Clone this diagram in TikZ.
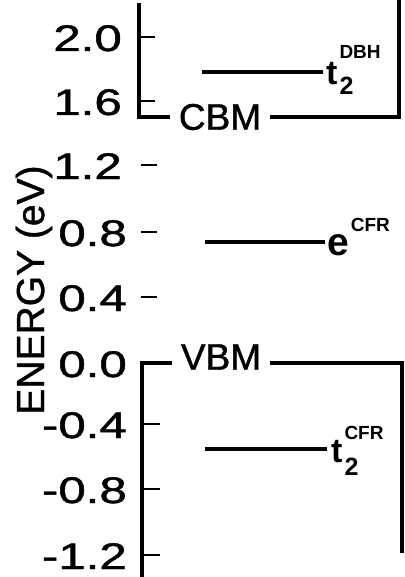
\documentclass[tikz,border=0pt]{standalone}
\usepackage{graphicx}
\usepackage{fontspec}
\setmainfont{Liberation Sans}
\newfontfamily\medfont[FakeBold=1.1]{Liberation Sans}
\newcommand\dg[1]{\scalebox{1.33}[1]{#1}}
\begin{document}
\begin{tikzpicture}[x=1pt,y=-1pt,
  axisline/.style={line width=3.4pt, line cap=butt},
  levelline/.style={line width=3.4pt},
  tickline/.style={line width=2.4pt},
  ticklab/.style={anchor=base east, inner sep=0pt, font=\medfont\fontsize{37}{37}\selectfont},
  bandlab/.style={inner sep=0pt, inner xsep=9pt, font=\medfont\fontsize{37}{37}\selectfont},
  statelab/.style={anchor=base west, inner sep=0pt, font=\bfseries\fontsize{34}{34}\selectfont}]
\useasboundingbox (0,0) rectangle (404,577);

% axis label
\node[rotate=90, anchor=base, inner sep=0pt, font=\medfont\fontsize{39}{39}\selectfont] (ylab) at (44,290) {ENERGY (eV)};

% upper box (conduction band)
\coordinate (ultop) at (139,3);
\coordinate (ulbot) at (139,117);
\coordinate (urtop) at (399,0);
\coordinate (urbot) at (399,117);
\node[bandlab] (cbm) at (220,117) {CBM};
\draw[axisline] (ultop) -- (ulbot) -- (cbm.west |- ulbot);
\draw[axisline] (cbm.east |- urbot) -- (urbot) -- (urtop);

% lower box (valence band)
\coordinate (lltop) at (142,363);
\coordinate (llbot) at (142,577);
\coordinate (lrtop) at (402,363);
\coordinate (lrbot) at (402,553);
\node[bandlab] (vbm) at (221,357) {VBM};
\draw[axisline] (llbot) -- (lltop) -- (vbm.west |- lltop);
\draw[axisline] (vbm.east |- lrtop) -- (lrtop) -- (lrbot);

% ticks
\coordinate (k1a) at (139,37);  \coordinate (k1b) at (155,37);
\coordinate (k2a) at (139,101); \coordinate (k2b) at (155,101);
\coordinate (k3a) at (141,165); \coordinate (k3b) at (157,165);
\coordinate (k4a) at (141,232); \coordinate (k4b) at (157,232);
\coordinate (k5a) at (141,297); \coordinate (k5b) at (157,297);
\coordinate (k7a) at (142,424); \coordinate (k7b) at (160,424);
\coordinate (k8a) at (142,489); \coordinate (k8b) at (160,489);
\coordinate (k9a) at (142,555); \coordinate (k9b) at (160,555);
\foreach \k in {1,2,3,4,5,7,8,9} {\draw[tickline] (k\k a) -- (k\k b);}

% tick labels
\node[ticklab] (l1) at (122,51)  {\dg{2.0}};
\node[ticklab] (l2) at (122,115) {\dg{1.6}};
\node[ticklab] (l3) at (122,179) {\dg{1.2}};
\node[ticklab] (l4) at (127,246) {\dg{0.8}};
\node[ticklab] (l5) at (127,311) {\dg{0.4}};
\node[ticklab] (l6) at (127,377) {\dg{0.0}};
\node[ticklab] (l7) at (127,438) {\dg{-0.4}};
\node[ticklab] (l8) at (127,503) {\dg{-0.8}};
\node[ticklab] (l9) at (127,569) {\dg{-1.2}};

% levels
\coordinate (t2da) at (202,72);
\node[statelab] (t2d) at (326,85) {t\kern2pt\rlap{\raisebox{-10pt}{\fontsize{25}{25}\selectfont 2}}\raisebox{26pt}{\fontsize{19}{19}\selectfont DBH}};
\draw[levelline, shorten >=3pt] (t2da) -- (t2d.west |- t2da);

\coordinate (ecfa) at (205,242);
\node[statelab] (ecf) at (327,255) {\fontsize{39}{39}\selectfont e\kern2pt\raisebox{24pt}{\fontsize{19}{19}\selectfont CFR}};
\draw[levelline, shorten >=2pt] (ecfa) -- (ecf.west |- ecfa);

\coordinate (t2ca) at (205,449);
\node[statelab] (t2c) at (331,462) {t\kern2pt\rlap{\raisebox{-13pt}{\fontsize{25}{25}\selectfont 2}}\raisebox{23pt}{\fontsize{19}{19}\selectfont CFR}};
\draw[levelline, shorten >=4pt] (t2ca) -- (t2c.west |- t2ca);
\end{tikzpicture}
\end{document}
